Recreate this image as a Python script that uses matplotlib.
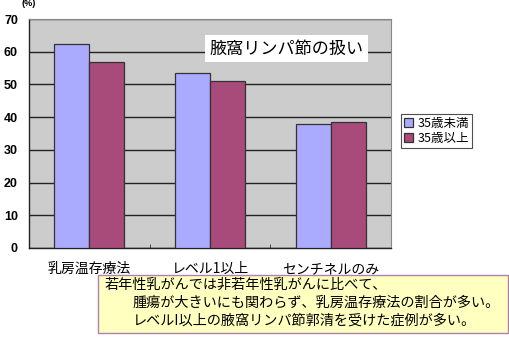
import numpy as np
import matplotlib
matplotlib.use('Agg')
import matplotlib.pyplot as plt
from matplotlib.patches import Rectangle

plt.rcParams['font.family'] = ['Noto Sans CJK JP', 'DejaVu Sans']

categories = ['乳房温存療法', 'レベル1以上', 'センチネルのみ']
under35 = [62.5, 53.5, 37.8]
over35 = [57.0, 51.0, 38.5]
series_names = ['35歳未満', '35歳以上']
yticks = [0, 10, 20, 30, 40, 50, 60, 70]

W, H = 510, 348
fig = plt.figure(figsize=(W / 100, H / 100), dpi=100)
ax = fig.add_axes([29 / W, (H - 248) / H, 362 / W, 229 / H])
ax.set_facecolor('#cccccc')

x = np.arange(len(categories))
bw = 0.29
ax.bar(x - bw / 2, under35, bw, color='#aaaaff', edgecolor='#333333', linewidth=0.9,
       label=series_names[0], zorder=3)
ax.bar(x + bw / 2, over35, bw, color='#a84a7a', edgecolor='#333333', linewidth=0.9,
       label=series_names[1], zorder=3)

ax.set_xlim(-0.5, 2.5)
ax.set_ylim(0, 70)
ax.set_yticks(yticks)
ax.set_yticklabels([str(v) for v in yticks], fontsize=9, fontweight='bold', family='Liberation Sans')
ax.yaxis.grid(True, color='#222222', linewidth=1.0, zorder=1)
ax.tick_params(axis='y', length=0, pad=8)

ax.set_xticks(x)
ax.set_xticklabels(categories, fontsize=10)
ax.tick_params(axis='x', length=0, pad=10)
ax.set_xticks([0.5, 1.5], minor=True)
ax.tick_params(axis='x', which='minor', direction='in', length=3, color='#333333')

for s in ['left', 'bottom']:
    ax.spines[s].set_color('#222222')
    ax.spines[s].set_linewidth(1.0)
for s in ['top', 'right']:
    ax.spines[s].set_color('#888888')
    ax.spines[s].set_linewidth(0.8)

ax.text(-0.02, 1.05, '(%)', transform=ax.transAxes, fontsize=6.5, fontweight='bold',
        family='Liberation Sans', ha='left', va='bottom')

ax.text(0.711, 0.87, '腋窩リンパ節の扱い', transform=ax.transAxes, fontsize=12.3,
        ha='center', va='center', zorder=5,
        bbox=dict(boxstyle='square,pad=0.25', facecolor='white', edgecolor='none'))

leg = fig.legend(loc='upper left', bbox_to_anchor=(401 / W, 1 - 114 / H), fontsize=9,
                 frameon=True, fancybox=False, edgecolor='#222222', handlelength=0.7,
                 handleheight=0.7, handletextpad=0.4, borderpad=0.25, labelspacing=0.15,
                 borderaxespad=0)
leg.get_frame().set_linewidth(0.8)

fig.patches.append(Rectangle((98 / W, 1 - 333 / H), 410 / W, 58 / H, transform=fig.transFigure,
                             facecolor='#ffffc0', edgecolor='#b080b0', linewidth=1.0))
lines = ['若年性乳がんでは非若年性乳がんに比べて、',
         '腫瘍が大きいにも関わらず、乳房温存療法の割合が多い。',
         'レベルI以上の腋窩リンパ節郭清を受けた症例が多い。']
line_x = [105, 133, 133]
for i, t in enumerate(lines):
    fig.text(line_x[i] / W, 1 - (285 + 18 * i) / H, t, fontsize=10.2, ha='left', va='center')

fig.savefig('out.png', dpi=100)
